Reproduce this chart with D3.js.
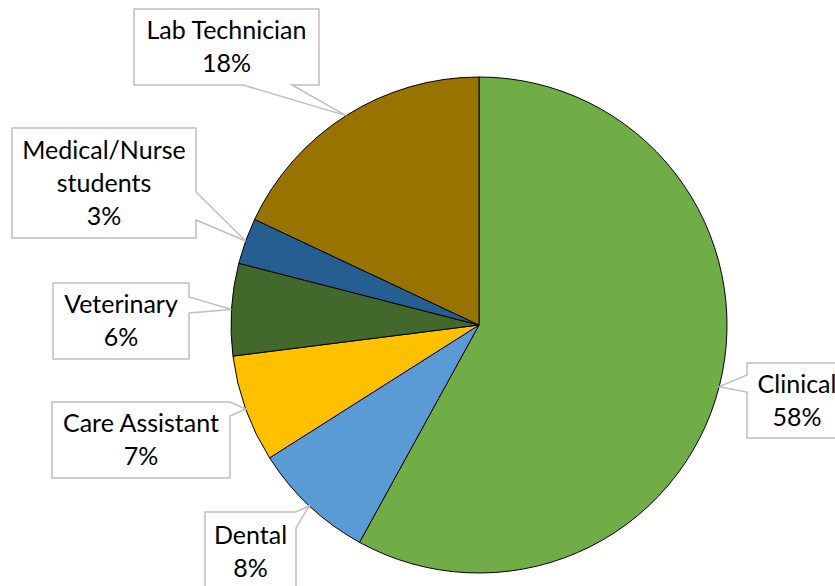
<!DOCTYPE html>
<html>
<head>
<meta charset="utf-8">
<script src="https://cdn.jsdelivr.net/npm/d3@7"></script>
<style>
  body { margin: 0; background: #fff; }
  svg { display: block; }
  text { font-family: Lato, "Open Sans", sans-serif; fill: #000; }
</style>
</head>
<body>
<svg id="chart" width="835" height="586"></svg>
<script>
// Pie data, clockwise from 12 o'clock
const categories = ["Clinical", "Dental", "Care Assistant", "Veterinary", "Medical/Nurse students", "Lab Technician"];
const shares = [58, 8, 7, 6, 3, 18];
const colors = ["#70AD47", "#5B9BD5", "#FFC000", "#43682B", "#255E91", "#997300"];

// Callout boxes (layout only)
const boxes = [
    { x: 747, y: 363, w: 100, h: 75, side: "left", s0: 375, s1: 392 },
    { x: 205, y: 512, w: 91, h: 80, side: "right", s0: 512, s1: 528 },
    { x: 52, y: 402, w: 178, h: 76, side: "right", s0: 402, s1: 416 },
    { x: 53, y: 283, w: 136, h: 76, side: "right", s0: 297, s1: 313 },
    { x: 12, y: 128, w: 184, h: 110, side: "right", s0: 192, s1: 220, wrap: true },
    { x: 134, y: 9, w: 185, h: 76, side: "bottom", s0: 243, s1: 292 }
];

const cx = 479, cy = 325, radius = 248;
const lineGap = 33;

const svg = d3.select("#chart");
const g = svg.append("g").attr("transform", `translate(${cx},${cy})`);

const total = d3.sum(shares);
const fmt = d3.format(".0%");

const pie = d3.pie().sort(null).value(d => d.value);
const arcs = pie(categories.map((c, i) => ({ name: c, value: shares[i], color: colors[i] })));

const arc = d3.arc().innerRadius(0).outerRadius(radius);
const edge = d3.arc().innerRadius(radius).outerRadius(radius);

g.selectAll("path.slice")
    .data(arcs)
    .enter()
    .append("path")
    .attr("class", "slice")
    .attr("d", arc)
    .attr("fill", d => d.data.color)
    .attr("stroke", "#000")
    .attr("stroke-width", 1);

// callout outline with a wedge pointing at the slice edge
function calloutPath(b, tip) {
    const { x, y, w, h, side, s0, s1 } = b;
    const p = [[x, y]];
    if (side === "top") p.push([s0, y], tip, [s1, y]);
    p.push([x + w, y]);
    if (side === "right") p.push([x + w, s0], tip, [x + w, s1]);
    p.push([x + w, y + h]);
    if (side === "bottom") p.push([s1, y + h], tip, [s0, y + h]);
    p.push([x, y + h]);
    if (side === "left") p.push([x, s1], tip, [x, s0]);
    return "M" + p.map(q => q.join(",")).join("L") + "Z";
}

const labels = svg.append("g");

arcs.forEach((d, i) => {
    const b = boxes[i];
    const c = edge.centroid(d);
    const tip = [cx + c[0], cy + c[1]];

    labels.append("path")
        .attr("d", calloutPath(b, tip))
        .attr("fill", "#fff")
        .attr("stroke", "#BFBFBF")
        .attr("stroke-width", 1.5);

    const lines = (b.wrap ? d.data.name.split(" ") : [d.data.name])
        .concat([fmt(d.data.value / total)]);
    const midY = b.y + b.h / 2;

    const t = labels.append("text")
        .attr("text-anchor", "middle")
        .attr("font-size", "25px");
    lines.forEach((ln, k) => {
        t.append("tspan")
            .attr("x", b.x + b.w / 2)
            .attr("y", midY + (k - (lines.length - 1) / 2) * lineGap)
            .attr("dy", "0.35em")
            .text(ln);
    });
});
</script>
</body>
</html>
